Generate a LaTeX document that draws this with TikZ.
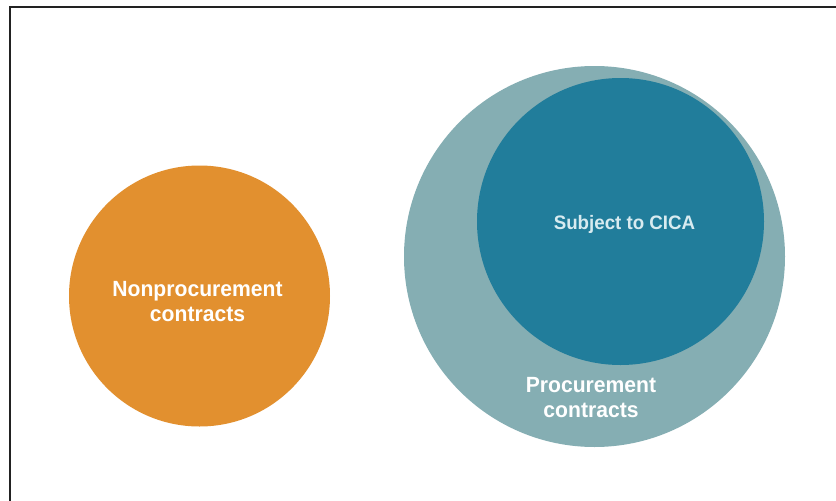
\documentclass[tikz,border=0pt]{standalone}
\usepackage{fontspec}
\setmainfont{Liberation Sans}
\newfontfamily\lblfont[FakeStretch=0.96]{Liberation Sans}
\definecolor{orangec}{HTML}{E2902F}
\definecolor{outerteal}{HTML}{85AEB3}
\definecolor{innerteal}{HTML}{217D9B}
\definecolor{lighttext}{HTML}{D8EBF0}
\definecolor{framec}{HTML}{222222}
\tikzset{
  blob/.style={circle, draw=none, inner sep=0pt},
  lbl/.style={align=center, text=white, inner sep=0pt, font=\lblfont\bfseries\fontsize{22}{25}\selectfont},
}
\begin{document}
\begin{tikzpicture}[x=1pt, y=-1pt]
\useasboundingbox (0,0) rectangle (836,501);
\fill[white] (0,0) rectangle (836,501);
\draw[framec, line width=2.3pt] (10,501) -- (10,7) -- (836,7);
\node[blob, fill=orangec, minimum size=261pt] (nonproc) at (199.5,296) {};
\node[blob, fill=outerteal, minimum size=381pt] (proc) at (594.5,256.5) {};
\node[blob, fill=innerteal, minimum size=287pt] (cica) at (620.5,221.5) {};
\node[lbl] (nonproclbl) at (197.5,302) {Nonprocurement\\contracts};
\node[lbl, text=lighttext, font=\lblfont\bfseries\fontsize{19.5}{23}\selectfont] (cicalbl) at (624.5,224) {Subject to CICA};
\node[lbl] (proclbl) at (591,398) {Procurement\\contracts};
\end{tikzpicture}
\end{document}
